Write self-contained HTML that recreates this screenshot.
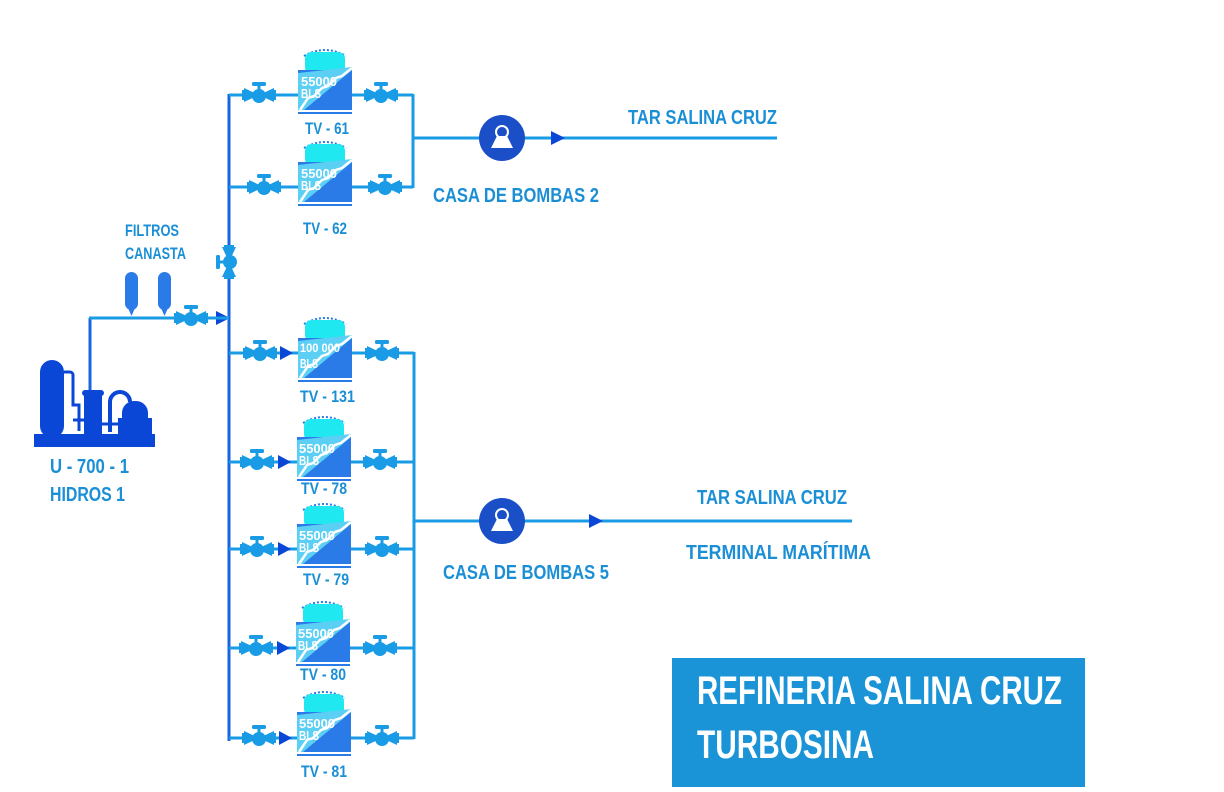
<!DOCTYPE html>
<html><head><meta charset="utf-8"><style>
html,body{margin:0;padding:0;background:#fff;}
svg{display:block;}
text{font-family:"Liberation Sans Narrow","Liberation Sans",sans-serif;font-weight:bold;}
</style></head><body>
<svg width="1224" height="792" viewBox="0 0 1224 792" xmlns="http://www.w3.org/2000/svg">
<defs>
<g id="tank">
  <path d="M6,10 Q27,-2 48,10" fill="none" stroke="#2a7be8" stroke-width="2" stroke-dasharray="2 2"/>
  <rect x="7" y="6" width="40" height="22" rx="7" fill="#20e8f0"/>
  <rect x="0" y="24" width="54" height="40" fill="#2a7be8"/>
  <polygon points="0,27 54,21 54,24 6,64 0,64" fill="#5ccff5"/>
  <polyline points="54,22 44,30 38,32 30,40 24,42 16,50 10,52 2,64" fill="none" stroke="#fff" stroke-width="2.5"/>
  <rect x="0" y="66" width="54" height="2" fill="#2a7be8"/>
</g>
<g id="valve" fill="#1a9be6">
  <polygon points="-15,-7 0,0 -15,7"/>
  <polygon points="15,-7 0,0 15,7"/>
  <circle cx="0" cy="1" r="7"/>
  <rect x="-1.5" y="-10" width="3" height="8"/>
  <rect x="-7" y="-13" width="14" height="4" rx="1.5"/>
  <rect x="-17" y="-5" width="3" height="10"/>
  <rect x="14" y="-5" width="3" height="10"/>
</g>
</defs>

<line x1="229" y1="94" x2="229" y2="741" stroke="#1766e0" stroke-width="3"/>

<g stroke="#1a9be6" stroke-width="3">
  <line x1="229" y1="95" x2="413" y2="95"/>
  <line x1="229" y1="187" x2="413" y2="187"/>
  <line x1="413" y1="94" x2="413" y2="188"/>
  <line x1="413" y1="138" x2="777" y2="138"/>
</g>
<g stroke="#1a9be6" stroke-width="3">
  <line x1="229" y1="353" x2="414" y2="353"/>
  <line x1="229" y1="462" x2="414" y2="462"/>
  <line x1="229" y1="549" x2="414" y2="549"/>
  <line x1="229" y1="648" x2="414" y2="648"/>
  <line x1="229" y1="738" x2="414" y2="738"/>
  <line x1="414" y1="352" x2="414" y2="739"/>
  <line x1="414" y1="521" x2="852" y2="521"/>
</g>

<g transform="translate(298,46)"><use href="#tank"/><text x="3" y="40" font-size="13" fill="#fff" textLength="36" lengthAdjust="spacingAndGlyphs">55000</text><text x="3" y="52" font-size="13" fill="#fff" textLength="20" lengthAdjust="spacingAndGlyphs">BLS</text></g>
<g transform="translate(298,138)"><use href="#tank"/><text x="3" y="40" font-size="13" fill="#fff" textLength="36" lengthAdjust="spacingAndGlyphs">55000</text><text x="3" y="52" font-size="13" fill="#fff" textLength="20" lengthAdjust="spacingAndGlyphs">BLS</text></g>
<g transform="translate(298,314)"><use href="#tank"/><text x="2" y="38" font-size="12" fill="#fff" textLength="40" lengthAdjust="spacingAndGlyphs">100 000</text><text x="2" y="54" font-size="13" fill="#fff" textLength="18" lengthAdjust="spacingAndGlyphs">BLS</text></g>
<g transform="translate(297,413)"><use href="#tank"/><text x="2" y="40" font-size="13" fill="#fff" textLength="36" lengthAdjust="spacingAndGlyphs">55000</text><text x="2" y="52" font-size="13" fill="#fff" textLength="20" lengthAdjust="spacingAndGlyphs">BLS</text></g>
<g transform="translate(297,500)"><use href="#tank"/><text x="2" y="40" font-size="13" fill="#fff" textLength="36" lengthAdjust="spacingAndGlyphs">55000</text><text x="2" y="52" font-size="13" fill="#fff" textLength="20" lengthAdjust="spacingAndGlyphs">BLS</text></g>
<g transform="translate(296,598)"><use href="#tank"/><text x="2" y="40" font-size="13" fill="#fff" textLength="36" lengthAdjust="spacingAndGlyphs">55000</text><text x="2" y="52" font-size="13" fill="#fff" textLength="20" lengthAdjust="spacingAndGlyphs">BLS</text></g>
<g transform="translate(297,688)"><use href="#tank"/><text x="2" y="40" font-size="13" fill="#fff" textLength="36" lengthAdjust="spacingAndGlyphs">55000</text><text x="2" y="52" font-size="13" fill="#fff" textLength="20" lengthAdjust="spacingAndGlyphs">BLS</text></g>

<g font-size="17" fill="#1b8fd6" lengthAdjust="spacingAndGlyphs">
  <text x="305" y="134" textLength="44" lengthAdjust="spacingAndGlyphs">TV - 61</text>
  <text x="303" y="234" textLength="44" lengthAdjust="spacingAndGlyphs">TV - 62</text>
  <text x="300" y="402" textLength="55" lengthAdjust="spacingAndGlyphs">TV - 131</text>
  <text x="301" y="494" textLength="46" lengthAdjust="spacingAndGlyphs">TV - 78</text>
  <text x="303" y="585" textLength="46" lengthAdjust="spacingAndGlyphs">TV - 79</text>
  <text x="300" y="680" textLength="46" lengthAdjust="spacingAndGlyphs">TV - 80</text>
  <text x="301" y="777" textLength="46" lengthAdjust="spacingAndGlyphs">TV - 81</text>
</g>

<g>
  <use href="#valve" x="259" y="95"/><use href="#valve" x="381" y="95"/>
  <use href="#valve" x="264" y="187"/><use href="#valve" x="385" y="187"/>
  <use href="#valve" x="260" y="353"/><use href="#valve" x="382" y="353"/>
  <use href="#valve" x="257" y="462"/><use href="#valve" x="380" y="462"/>
  <use href="#valve" x="257" y="549"/><use href="#valve" x="382" y="549"/>
  <use href="#valve" x="256" y="648"/><use href="#valve" x="380" y="648"/>
  <use href="#valve" x="259" y="738"/><use href="#valve" x="382" y="738"/>
  <use href="#valve" x="191" y="318"/>
  <g transform="translate(229,262) rotate(-90)"><use href="#valve"/></g>
</g>

<g fill="#0b47d6">
  <polygon points="280,346 293,353 280,360"/>
  <polygon points="278,455 291,462 278,469"/>
  <polygon points="278,542 291,549 278,556"/>
  <polygon points="277,641 290,648 277,655"/>
  <polygon points="279,731 292,738 279,745"/>
  <polygon points="551,131 565,138 551,145"/>
  <polygon points="589,514 603,521 589,528"/>
  <polygon points="216,311 230,318 216,325"/>
</g>

<g>
  <circle cx="502" cy="138" r="23" fill="#1a4fc8"/>
  <circle cx="502" cy="132" r="6" fill="none" stroke="#fff" stroke-width="2"/>
  <polygon points="491,148 513,148 507,136 497,136" fill="#fff"/>
</g>
<g>
  <circle cx="502" cy="521" r="23" fill="#1a4fc8"/>
  <circle cx="502" cy="515" r="6" fill="none" stroke="#fff" stroke-width="2"/>
  <polygon points="491,531 513,531 507,519 497,519" fill="#fff"/>
</g>

<g>
  <line x1="90" y1="318" x2="90" y2="400" stroke="#1766e0" stroke-width="3"/>
  <line x1="89" y1="318" x2="229" y2="318" stroke="#1a9be6" stroke-width="3"/>
</g>
<g fill="#2a7be8">
  <rect x="125" y="272" width="13" height="38" rx="6.5"/>
  <rect x="158" y="272" width="13" height="38" rx="6.5"/>
  <polygon points="128,308 135,308 131.5,316"/>
  <polygon points="161,308 168,308 164.5,316"/>
</g>

<g fill="#0b47d6">
  <rect x="34" y="434" width="121" height="13"/>
  <rect x="40" y="360" width="24" height="78" rx="12"/>
  <path d="M64,372 h6 a3,3 0 0 1 3,3 v30 h6 v26" fill="none" stroke="#0b47d6" stroke-width="3"/>
  <path d="M73,420 h12" fill="none" stroke="#0b47d6" stroke-width="3"/>
  <rect x="84" y="390" width="18" height="48" rx="4"/>
  <rect x="82" y="390" width="22" height="6" rx="3"/>
  <path d="M110,432 v-30 a10,10 0 0 1 20,0" fill="none" stroke="#0b47d6" stroke-width="4"/>
  <path d="M102,424 h20" fill="none" stroke="#0b47d6" stroke-width="3"/>
  <rect x="122" y="401" width="26" height="37" rx="12"/>
  <rect x="118" y="418" width="34" height="20"/>
</g>

<g font-size="20" fill="#1b8fd6">
  <text x="628" y="124" textLength="149" lengthAdjust="spacingAndGlyphs">TAR SALINA CRUZ</text>
  <text x="433" y="202" textLength="166" lengthAdjust="spacingAndGlyphs">CASA DE BOMBAS 2</text>
  <text x="697" y="504" textLength="150" lengthAdjust="spacingAndGlyphs">TAR SALINA CRUZ</text>
  <text x="686" y="559" textLength="185" lengthAdjust="spacingAndGlyphs">TERMINAL MARÍTIMA</text>
  <text x="443" y="579" textLength="166" lengthAdjust="spacingAndGlyphs">CASA DE BOMBAS 5</text>
  <text x="50" y="473" textLength="79" lengthAdjust="spacingAndGlyphs">U - 700 - 1</text>
  <text x="50" y="501" textLength="75" lengthAdjust="spacingAndGlyphs">HIDROS 1</text>
  <text x="125" y="236" font-size="17" textLength="54" lengthAdjust="spacingAndGlyphs">FILTROS</text>
  <text x="125" y="259" font-size="17" textLength="61" lengthAdjust="spacingAndGlyphs">CANASTA</text>
</g>

<g>
  <rect x="672" y="658" width="413" height="129" fill="#1a94d6"/>
  <text x="697" y="704" font-size="40" fill="#fff" textLength="365" lengthAdjust="spacingAndGlyphs">REFINERIA SALINA CRUZ</text>
  <text x="697" y="758" font-size="40" fill="#fff" textLength="177" lengthAdjust="spacingAndGlyphs">TURBOSINA</text>
</g>
</svg>
</body></html>
